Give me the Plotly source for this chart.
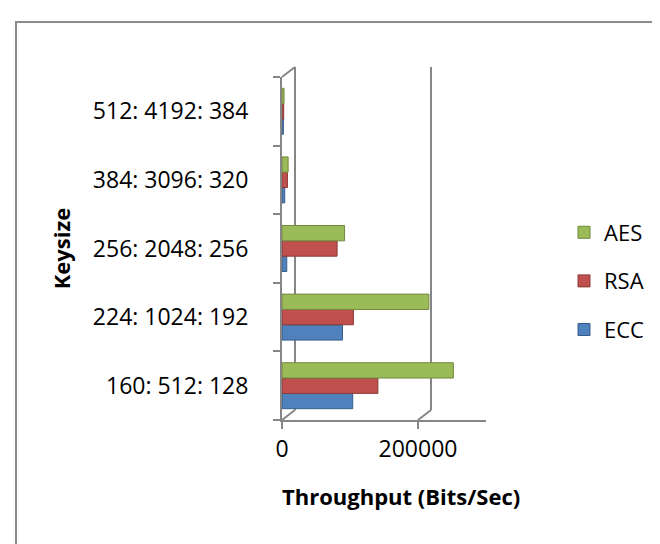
import plotly.graph_objects as go

categories = ["160: 512: 128", "224: 1024: 192", "256: 2048: 256", "384: 3096: 320", "512: 4192: 384"]
ecc = [104000, 89000, 7000, 4000, 2000]
rsa = [141000, 105000, 81000, 8000, 2500]
aes = [252000, 216000, 92000, 9000, 3000]
x_ticks = [0, 200000]

W, H = 660, 544
ML, MR, MT, MB = 274, 182, 69, 132
PW, PH = W - ML - MR, H - MT - MB
XMAX = 300000
DX, DY = 13, 10
dxp, dyp = DX / PW, DY / PH
xoff = DX / PW * XMAX
AXC = "#868686"
FONT = "Open Sans, Lato, sans-serif"

fig = go.Figure()
series = [("ECC", ecc, "#4F81BD", "#385D8A", 3),
          ("RSA", rsa, "#C0504D", "#8C3836", 2),
          ("AES", aes, "#9BBB59", "#71893F", 1)]
for name, vals, col, dark, rank in series:
    fig.add_trace(go.Bar(y=categories, x=vals, name=name, orientation="h",
                         legendgroup=name, legendrank=rank,
                         marker=dict(color=col, line=dict(color=dark, width=1))))

shapes = [
    dict(type="rect", xref="paper", yref="paper",
         x0=(8 - ML) / PW, x1=(W + 10 - ML) / PW,
         y0=(PH - (H + 10 - MT)) / PH, y1=(PH - (14 - MT)) / PH,
         line=dict(color="#8c8c8c", width=2), layer="below"),
    dict(type="line", xref="paper", yref="paper", x0=dxp, x1=dxp, y0=dyp, y1=1 + dyp,
         line=dict(color=AXC, width=2), layer="below"),
    dict(type="line", xref="paper", yref="paper", x0=0, x1=dxp, y0=1, y1=1 + dyp,
         line=dict(color=AXC, width=2), layer="below"),
    dict(type="line", xref="paper", yref="paper", x0=0, x1=dxp, y0=0, y1=dyp,
         line=dict(color=AXC, width=2), layer="below"),
]
for t in x_ticks[1:]:
    shapes.append(dict(type="line", xref="x", yref="paper", x0=t, x1=t + xoff, y0=0, y1=dyp,
                       line=dict(color=AXC, width=2), layer="below"))
    shapes.append(dict(type="line", xref="x", yref="paper", x0=t + xoff, x1=t + xoff, y0=dyp, y1=1 + dyp,
                       line=dict(color=AXC, width=2), layer="below"))

fig.update_layout(
    width=W, height=H,
    margin=dict(l=ML, r=MR, t=MT, b=MB, autoexpand=False),
    paper_bgcolor="white", plot_bgcolor="white",
    font=dict(family=FONT, color="black", size=22),
    barmode="group", bargap=0.33, bargroupgap=0,
    shapes=shapes,
    legend=dict(x=(556 - ML) / PW, y=(PH - (273 - MT)) / PH, xanchor="left", yanchor="middle",
                traceorder="grouped", tracegroupgap=17,
                font=dict(size=22, family=FONT), bgcolor="rgba(0,0,0,0)"),
    xaxis=dict(range=[0, XMAX], tickvals=x_ticks, ticktext=[str(v) for v in x_ticks],
               showgrid=False, zeroline=False, showline=True, linecolor=AXC, linewidth=2,
               ticks="outside", ticklen=7, tickcolor=AXC, tickwidth=2,
               tickfont=dict(size=23), ticklabelstandoff=0),
    yaxis=dict(type="category", categoryorder="array", categoryarray=categories,
               showgrid=False, showline=True, linecolor=AXC, linewidth=2,
               ticks="outside", ticklen=7, tickcolor=AXC, tickwidth=2, tickson="boundaries",
               tickfont=dict(size=23), ticklabelstandoff=27,
               title=dict(text="<b>Keysize</b>", font=dict(size=22), standoff=16)),
    annotations=[dict(text="<b>Throughput (Bits/Sec)</b>", xref="paper", yref="paper",
                      x=(393 - ML) / PW, y=(PH - (488 - MT)) / PH, xanchor="center", yanchor="middle",
                      showarrow=False, font=dict(size=22))],
)

fig.write_html("out.html")
